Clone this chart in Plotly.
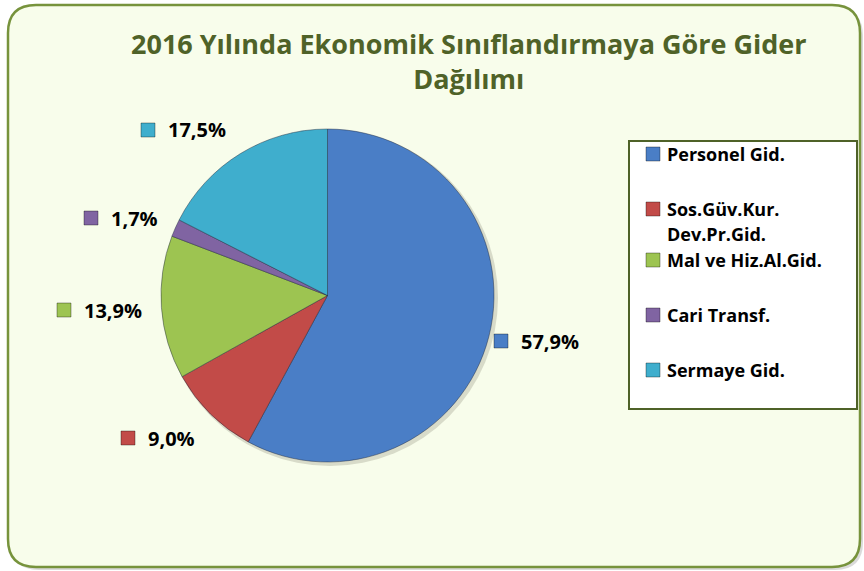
import plotly.graph_objects as go

# Expenditure shares, 2016, by economic classification (percent)
categories = ["Personel Gid.", "Sos.Güv.Kur.<br>Dev.Pr.Gid.", "Mal ve Hiz.Al.Gid.",
              "Cari Transf.", "Sermaye Gid."]
shares = [57.9, 9.0, 13.9, 1.7, 17.5]
colors = ["#4A7EC6", "#C24B48", "#9DC451", "#8064A2", "#3FAECD"]

W, H = 864, 571
TITLE = "2016 Yılında Ekonomik Sınıflandırmaya Göre Gider<br>Dağılımı"
FONT = "Open Sans"


def px(x):
    return x / W


def py(y):
    return 1 - y / H


def rounded_rect(x0, y0, x1, y1, r):
    rx, ry = r / W, r / H
    a0, b0, a1, b1 = px(x0), py(y0), px(x1), py(y1)
    return (f"M {a0 + rx},{b0} L {a1 - rx},{b0} Q {a1},{b0} {a1},{b0 - ry} "
            f"L {a1},{b1 + ry} Q {a1},{b1} {a1 - rx},{b1} "
            f"L {a0 + rx},{b1} Q {a0},{b1} {a0},{b1 + ry} "
            f"L {a0},{b0 - ry} Q {a0},{b0} {a0 + rx},{b0} Z")


fig = go.Figure()
fig.add_trace(go.Pie(
    labels=[c.replace("<br>", " ") for c in categories],
    values=shares,
    sort=False,
    direction="clockwise",
    rotation=0,
    marker=dict(colors=colors, line=dict(color="rgba(30,40,60,0.45)", width=1)),
    textinfo="none",
    hovertemplate="%{label}: %{value:.1f}%<extra></extra>",
    domain=dict(x=[px(161), px(494)], y=[py(462), py(129)]),
    showlegend=False,
))

shapes = [
    # chart area: soft shadow then rounded frame
    dict(type="path", path=rounded_rect(11, 8, 863, 570, 28), xref="paper", yref="paper",
         fillcolor="rgba(150,150,150,0.35)", line=dict(width=0), layer="below"),
    dict(type="path", path=rounded_rect(8, 5, 860, 567, 28), xref="paper", yref="paper",
         fillcolor="#F8FDEB", line=dict(color="#77933C", width=2.5), layer="below"),
    # pie drop shadow
    dict(type="circle", xref="paper", yref="paper",
         x0=px(162), x1=px(498), y0=py(466), y1=py(130),
         fillcolor="rgba(120,120,100,0.25)", line=dict(width=0), layer="below"),
    # legend frame
    dict(type="rect", xref="paper", yref="paper",
         x0=px(629), x1=px(857), y0=py(409), y1=py(141),
         fillcolor="white", line=dict(color="#4F6228", width=2), layer="below"),
]

annotations = [
    dict(text=TITLE, x=px(469), y=py(61), xref="paper", yref="paper",
         xanchor="center", yanchor="middle", showarrow=False,
         font=dict(family=FONT, size=27, color="#4F6228", weight="bold")),
]

# percentage labels: key square and text position for each slice
label_pos = [(494, 341), (121, 438), (57, 310), (84, 218), (141, 130)]
for (x, y), v, c in zip(label_pos, shares, colors):
    shapes.append(dict(type="rect", xref="paper", yref="paper",
                       x0=px(x), x1=px(x + 14), y0=py(y + 7), y1=py(y - 7),
                       fillcolor=c, line=dict(color="rgba(0,0,0,0.35)", width=1)))
    annotations.append(dict(text=f"{v:.1f}".replace(".", ",") + "%",
                            x=px(x + 25), y=py(y), xref="paper", yref="paper",
                            xanchor="left", yanchor="middle", showarrow=False,
                            font=dict(family=FONT, size=20, color="black", weight="bold")))

# legend entries
legend_y = [154, 209, 260, 315, 370]
for y, lab, c in zip(legend_y, categories, colors):
    shapes.append(dict(type="rect", xref="paper", yref="paper",
                       x0=px(646), x1=px(660), y0=py(y + 7), y1=py(y - 7),
                       fillcolor=c, line=dict(color="rgba(0,0,0,0.35)", width=1)))
    for i, line in enumerate(lab.split("<br>")):
        annotations.append(dict(text=line, x=px(665), y=py(y + 25 * i),
                                xref="paper", yref="paper",
                                xanchor="left", yanchor="middle", showarrow=False,
                                font=dict(family=FONT, size=18, color="black", weight="bold")))

fig.update_layout(
    width=W, height=H,
    margin=dict(l=0, r=0, t=0, b=0),
    paper_bgcolor="white",
    plot_bgcolor="white",
    shapes=shapes,
    annotations=annotations,
)

fig.write_html("out.html")
